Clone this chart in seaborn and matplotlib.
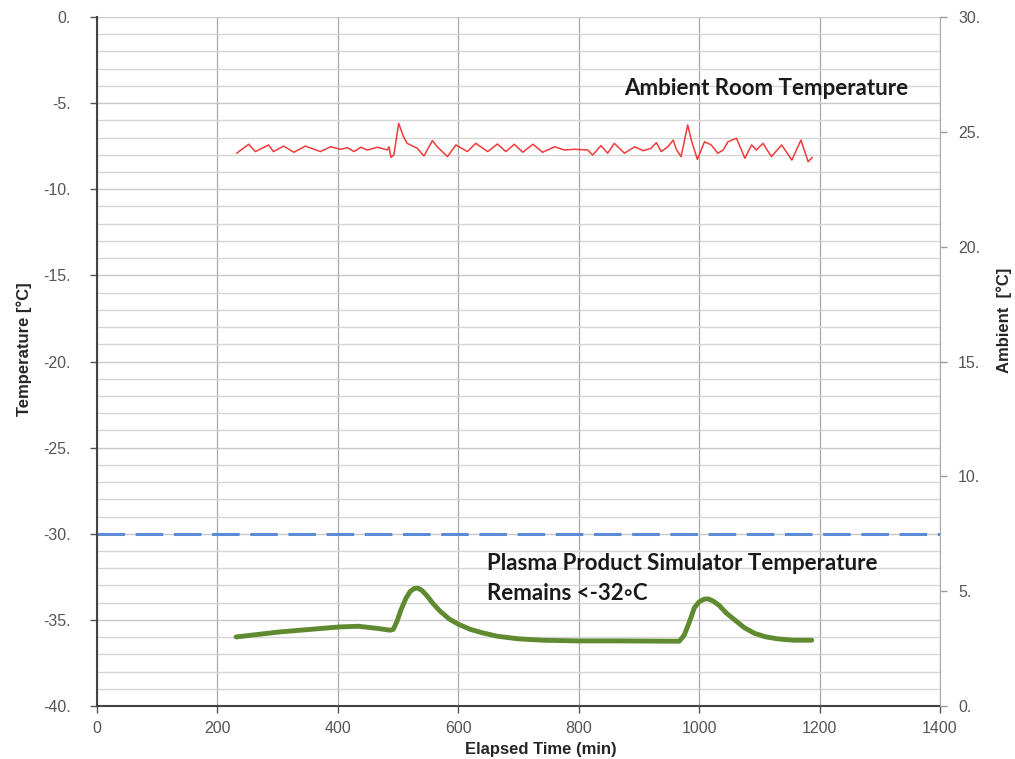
import numpy as np
import pandas as pd
import seaborn as sns
import matplotlib.pyplot as plt
from matplotlib.ticker import MultipleLocator, FuncFormatter

# ambient room temperature (right axis, degC)
ambient_time = [232, 252, 263, 285, 293, 310, 327, 346, 371, 388, 404, 416, 427, 438,
                449, 466, 482, 485, 488, 493, 501, 509, 515, 532, 543, 557, 565, 582,
                596, 615, 629, 649, 665, 679, 693, 707, 724, 740, 760, 776, 793, 815,
                823, 837, 848, 859, 876, 893, 907, 920, 929, 937, 948, 957, 962, 970,
                981, 987, 997, 1009, 1020, 1031, 1040, 1048, 1062, 1076, 1087, 1095,
                1106, 1120, 1137, 1154, 1169, 1181, 1188]
ambient_temp = [24.07, 24.46, 24.14, 24.43, 24.14, 24.38, 24.11, 24.38, 24.14, 24.35,
                24.24, 24.31, 24.14, 24.33, 24.21, 24.33, 24.21, 24.35, 23.89, 23.99,
                25.37, 24.79, 24.50, 24.28, 23.95, 24.62, 24.35, 23.92, 24.43, 24.14,
                24.50, 24.14, 24.47, 24.14, 24.46, 24.11, 24.46, 24.11, 24.35, 24.21,
                24.24, 24.21, 23.99, 24.40, 24.07, 24.50, 24.07, 24.35, 24.18, 24.28,
                24.53, 24.14, 24.35, 24.64, 24.24, 23.92, 25.30, 24.64, 23.80, 24.57,
                24.43, 24.07, 24.21, 24.57, 24.72, 23.85, 24.43, 24.21, 24.50, 23.92,
                24.43, 23.77, 24.64, 23.70, 23.89]

# plasma product simulator temperature (left axis, degC)
product_time = [231, 303, 402, 434, 467, 487, 492, 498, 505, 513, 520, 527, 533, 540,
                548, 558, 570, 585, 600, 620, 640, 665, 700, 740, 796, 862, 967, 975,
                983, 992, 1000, 1008, 1015, 1023, 1033, 1045, 1059, 1075, 1092, 1110,
                1130, 1157, 1187]
product_temp = [-35.99, -35.70, -35.41, -35.37, -35.50, -35.60, -35.55, -35.10, -34.40,
                -33.75, -33.35, -33.17, -33.16, -33.30, -33.60, -34.05, -34.50, -34.95,
                -35.25, -35.55, -35.75, -35.95, -36.10, -36.18, -36.22, -36.22, -36.24,
                -35.90, -35.20, -34.30, -33.95, -33.80, -33.78, -33.90, -34.15, -34.60,
                -35.00, -35.45, -35.78, -35.98, -36.10, -36.18, -36.18]

limit_temp = -30

sns.set_style("white")
plt.rcParams["font.family"] = ["Liberation Sans", "DejaVu Sans"]

fig = plt.figure(figsize=(10.15, 7.59), dpi=100)
ax = fig.add_axes([0.0956, 0.0698, 0.8305, 0.9078])
ax2 = ax.twinx()

ax.set_xlim(0, 1400)
ax.set_ylim(-40, 0)
ax2.set_ylim(0, 30)

ax.yaxis.set_major_locator(MultipleLocator(5))
ax.yaxis.set_minor_locator(MultipleLocator(1))
ax.xaxis.set_major_locator(MultipleLocator(200))
ax2.yaxis.set_major_locator(MultipleLocator(5))

ax.grid(True, which="minor", axis="y", color="#d6d6d6", lw=1.0)
ax.grid(True, which="major", axis="y", color="#c8c8c8", lw=1.0)
ax.grid(True, which="major", axis="x", color="#a8a8a8", lw=0.9)
ax.set_axisbelow(True)

ax.axhline(limit_temp, color="#5b8bd6", lw=2.2, dashes=(9, 3.5))

sns.lineplot(x=product_time, y=product_temp, ax=ax, color="#5f8a30", lw=3.5)
sns.lineplot(x=ambient_time, y=ambient_temp, ax=ax2, color="#f23a3a", lw=1.1)

fmt = FuncFormatter(lambda v, p: f"{v:.0f}.")
ax.yaxis.set_major_formatter(fmt)
ax2.yaxis.set_major_formatter(fmt)

for a in (ax, ax2):
    a.tick_params(axis="both", which="major", labelsize=11.5, labelcolor="#555555",
                  length=5, width=1, color="#555555", direction="out")
    a.tick_params(which="minor", length=0)
    a.spines["top"].set_visible(False)
ax.tick_params(axis="y", left=True, pad=14)
ax.tick_params(axis="x", bottom=True, pad=6)
ax2.tick_params(axis="y", right=True, color="#999999", pad=8)

ax.spines["left"].set_color("#444444")
ax.spines["bottom"].set_color("#444444")
ax.spines["left"].set_linewidth(1.5)
ax.spines["bottom"].set_linewidth(1.5)
ax2.spines["right"].set_color("#aaaaaa")
ax2.spines["left"].set_visible(False)
ax2.spines["bottom"].set_visible(False)
ax.spines["right"].set_visible(False)

ax.set_xlabel("Elapsed Time (min)", fontsize=12, fontweight="bold")
ax.set_ylabel("Temperature [°C]", fontsize=12, fontweight="bold")
ax2.set_ylabel("Ambient  [°C]", fontsize=12, fontweight="bold")
ax.xaxis.set_label_coords(0.527, -0.052)
ax.yaxis.set_label_coords(-0.077, 0.518)
ax2.yaxis.set_label_coords(1.0665, 0.559)

note_font = ["Lato", "DejaVu Sans"]
ax.text(875, -4.15, "Ambient Room Temperature", fontsize=16,
        fontweight="bold", family=note_font, ha="left", va="center", color="#1a1a1a")
ax.text(648, -31.7, "Plasma Product Simulator Temperature", fontsize=16,
        fontweight="bold", family=note_font, ha="left", va="center", color="#1a1a1a")
ax.text(648, -33.45, "Remains <-32◦C", fontsize=16,
        fontweight="bold", family=note_font, ha="left", va="center", color="#1a1a1a")

fig.savefig("out.png", dpi=100)
